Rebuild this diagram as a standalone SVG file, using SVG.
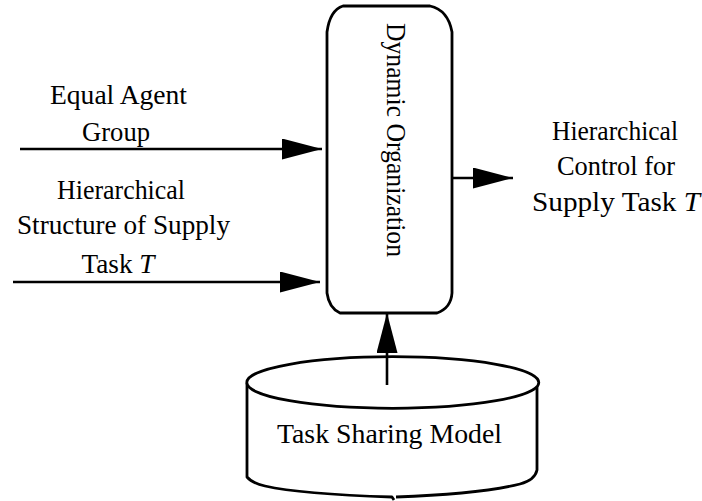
<svg xmlns="http://www.w3.org/2000/svg" width="702" height="501" viewBox="0 0 702 501">
<style>
  text { font-family: "Liberation Serif", "Times New Roman", serif; font-size: 28px; fill: #000; }
  .shape { fill: #fff; stroke: #000; stroke-width: 2.8; stroke-linejoin: round; }
  .conn { stroke: #000; stroke-width: 2.6; fill: none; }
  .it { font-style: italic; }
</style>
<defs>
  <marker id="ah" markerUnits="userSpaceOnUse" markerWidth="42" markerHeight="22" refX="40" refY="10.5" orient="auto">
    <path d="M0,0 L40,10.5 L0,21 Z" fill="#000"/>
  </marker>
</defs>
<rect width="702" height="501" fill="#fff"/>

<g id="dynamic-organization">
  <path class="shape" d="M343,6 H430 Q448,10 452,32 V293 Q451,308 437,313 H340 Q329,308 327,293 V32 Q330,10 343,6 Z"/>
  <text transform="translate(387,140) rotate(90)" text-anchor="middle" textLength="234" lengthAdjust="spacingAndGlyphs">Dynamic Organization</text>
</g>

<g id="task-sharing-model">
  <path class="shape" d="M247,383 V477 Q252,483 265,486 Q300,494 392,497 L394,500 M396,497 Q480,494 520,484 Q535,480 537,470 V383"/>
  <ellipse class="shape" cx="392.8" cy="382.5" rx="146" ry="25.8"/>
  <text x="389.5" y="443" text-anchor="middle" textLength="225" lengthAdjust="spacingAndGlyphs">Task Sharing Model</text>
</g>

<g id="label-equal-agent-group">
  <text x="118.5" y="104" text-anchor="middle" textLength="137" lengthAdjust="spacingAndGlyphs">Equal Agent</text>
  <text x="116" y="141" text-anchor="middle" textLength="68" lengthAdjust="spacingAndGlyphs">Group</text>
</g>

<g id="label-hierarchical-structure">
  <text x="121" y="199" text-anchor="middle" textLength="128" lengthAdjust="spacingAndGlyphs">Hierarchical</text>
  <text x="123.5" y="234" text-anchor="middle" textLength="213" lengthAdjust="spacingAndGlyphs">Structure of Supply</text>
  <text x="118" y="273" text-anchor="middle" textLength="73" lengthAdjust="spacingAndGlyphs">Task <tspan class="it">T</tspan></text>
</g>

<g id="label-hierarchical-control">
  <text x="615" y="140" text-anchor="middle" textLength="126" lengthAdjust="spacingAndGlyphs">Hierarchical</text>
  <text x="616" y="175" text-anchor="middle" textLength="118" lengthAdjust="spacingAndGlyphs">Control for</text>
  <text x="616" y="211" text-anchor="middle" textLength="168" lengthAdjust="spacingAndGlyphs">Supply Task <tspan class="it">T</tspan></text>
</g>

<g id="connectors">
  <line class="conn" x1="20" y1="149" x2="322" y2="149" marker-end="url(#ah)"/>
  <line class="conn" x1="13" y1="282" x2="320" y2="282" marker-end="url(#ah)"/>
  <line class="conn" x1="452" y1="178" x2="513" y2="178" marker-end="url(#ah)"/>
  <line class="conn" x1="387" y1="385" x2="387" y2="313" marker-end="url(#ah)"/>
</g>
</svg>
